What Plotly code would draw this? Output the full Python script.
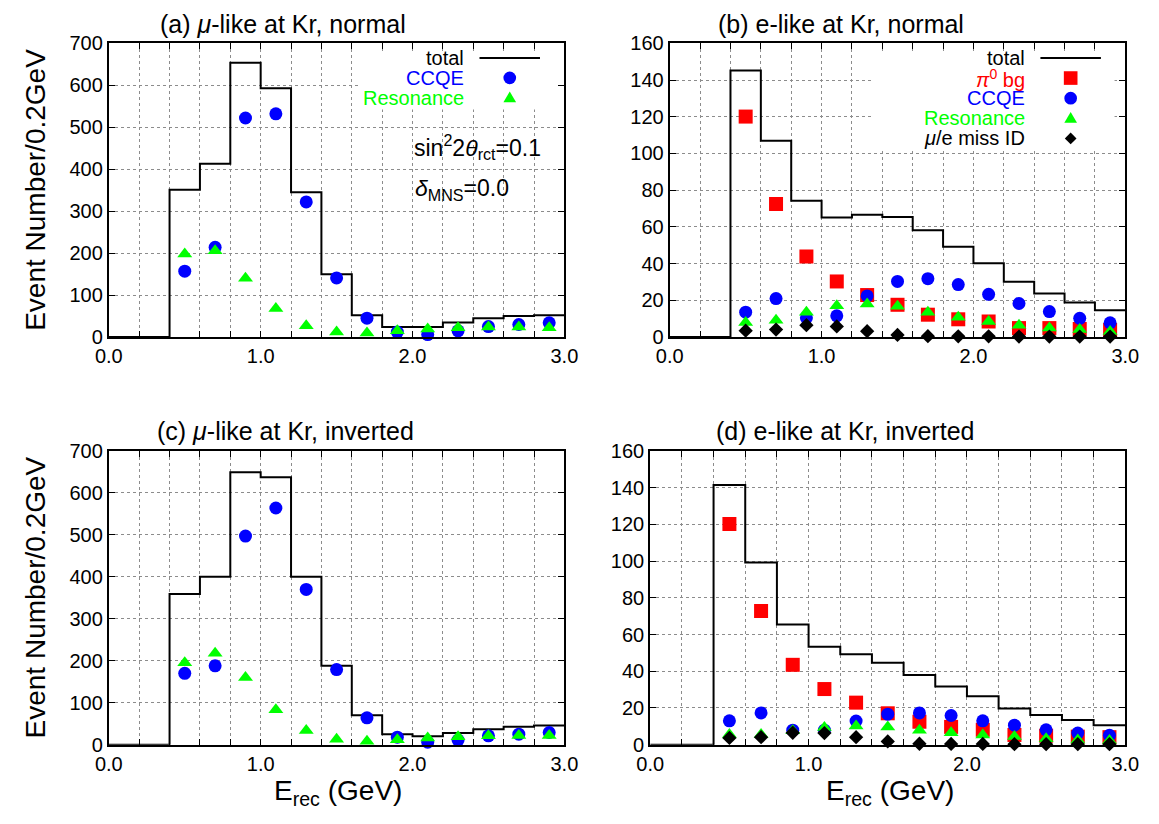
import plotly.graph_objects as go

# ---------------- data ----------------
bin_edges = [0.0, 0.2, 0.4, 0.6, 0.8, 1.0, 1.2, 1.4, 1.6, 1.8, 2.0, 2.2, 2.4, 2.6, 2.8, 3.0]
bin_centers = [0.5, 0.7, 0.9, 1.1, 1.3, 1.5, 1.7, 1.9, 2.1, 2.3, 2.5, 2.7, 2.9]

# (a) mu-like, normal
total_a = [0, 0, 351, 413, 654, 593, 345, 150, 52, 24, 24, 35, 45, 50, 52]
ccqe_a = [157, 214, 522, 532, 322, 141, 45, 12, 6, 15, 25, 30, 34]
res_a = [198, 206, 140, 68, 27, 12, 10, 15, 19, 22, 24, 24, 22]

# (b) e-like, normal
total_b = [0, 0, 145.2, 106.9, 74.3, 65.1, 66.7, 65.4, 58.2, 49.2, 40.2, 30.2, 23.8, 18.9, 14.6]
pi0_b = [120.1, 72.5, 43.9, 30.3, 22.9, 17.6, 12.2, 9.7, 8.5, 4.9, 4.9, 4.4, 3.9]
ccqe_b = [13.6, 21.0, 10.5, 11.6, 22.4, 30.3, 31.8, 28.6, 23.3, 18.3, 13.9, 10.2, 7.8]
res_b = [7.9, 9.2, 13.6, 17.1, 18.0, 16.8, 13.6, 10.8, 8.5, 6.4, 4.9, 4.2, 3.0]
misid_b = [3.5, 4.1, 6.5, 5.8, 3.2, 1.2, 0.5, 0.4, 0.4, 0.3, 0.3, 0.3, 0.3]

# (c) mu-like, inverted
total_c = [0, 0, 359, 400, 649, 637, 400, 188, 70, 25, 20, 28, 37, 43, 46]
ccqe_c = [170, 188, 497, 564, 370, 179, 64, 18, 6, 11, 21, 25, 29]
res_c = [195, 218, 160, 83, 34, 13, 8, 12, 16, 19, 21, 22, 22]

# (d) e-like, inverted
total_d = [0, 0, 141.5, 99.2, 65.4, 53.4, 49.2, 44.6, 37.9, 31.7, 26.4, 19.7, 16.2, 13.4, 10.6]
pi0_d = [120.2, 72.8, 43.5, 30.3, 22.9, 17.1, 12.5, 9.7, 8.1, 5.3, 4.9, 4.4, 4.1]
ccqe_d = [13.0, 17.3, 7.9, 7.9, 12.9, 16.6, 17.3, 15.9, 13.0, 10.6, 8.1, 6.3, 5.1]
res_d = [5.5, 5.5, 7.6, 9.3, 10.2, 9.7, 7.9, 6.5, 5.3, 4.4, 3.3, 2.6, 2.3]
misid_d = [3.7, 4.1, 6.5, 6.3, 4.1, 1.8, 0.5, 0.4, 0.4, 0.3, 0.3, 0.3, 0.3]

x_tick_vals = [0.0, 1.0, 2.0, 3.0]
x_tick_text = ["0.0", "1.0", "2.0", "3.0"]
y_ticks_mu = [0, 100, 200, 300, 400, 500, 600, 700]
y_ticks_e = [0, 20, 40, 60, 80, 100, 120, 140, 160]

titles = ["(a) <i>μ</i>-like at Kr, normal", "(b) e-like at Kr, normal",
          "(c) <i>μ</i>-like at Kr, inverted", "(d) e-like at Kr, inverted"]
y_title = "Event Number/0.2GeV"
x_title = "E<sub>rec</sub> (GeV)"
label_theta = "sin<sup>2</sup>2<i>θ</i><sub>rct</sub>=0.1"
label_delta = "<i>δ</i><sub>MNS</sub>=0.0"

# ---------------- style ----------------
# The page keeps the browser's default 8px body margin, so the figure is
# made 16px smaller than the window and window-pixel positions are shifted.
PAGE_MARGIN = 8
W, H = 1159 - 2 * PAGE_MARGIN, 824 - 2 * PAGE_MARGIN
FONT = "Liberation Sans, Arial, Helvetica, sans-serif"
RED, BLUE, GREEN, BLACK = "#ff0000", "#0000ff", "#00ff00", "#000000"
GRID = dict(showgrid=True, gridcolor="#8c8c8c", griddash="dot", gridwidth=1)


def px(x):
    return (x - PAGE_MARGIN) / W


def py(y):
    return 1 - (y - PAGE_MARGIN) / H


panels = {
    "a": dict(x=(97, 564), y=(33, 335)),
    "b": dict(x=(672, 1139), y=(33, 335)),
    "c": dict(x=(97, 564), y=(452, 754)),
    "d": dict(x=(652, 1139), y=(452, 754)),
}

fig = go.Figure()


def add_total(y, xa, ya):
    fig.add_trace(go.Scatter(x=bin_edges, y=y + [y[-1]], mode="lines", line_shape="hv",
                             line=dict(color=BLACK, width=2), xaxis=xa, yaxis=ya,
                             showlegend=False, hoverinfo="skip"))


def add_pts(y, xa, ya, color, symbol, size):
    fig.add_trace(go.Scatter(x=bin_centers, y=y, mode="markers", cliponaxis=False,
                             marker=dict(color=color, symbol=symbol, size=size, line=dict(width=0)),
                             xaxis=xa, yaxis=ya, showlegend=False))


# (a)
add_total(total_a, "x", "y")
add_pts(ccqe_a, "x", "y", BLUE, "circle", 13)
add_pts(res_a, "x", "y", GREEN, "triangle-up", 13)
# (b)
add_total(total_b, "x2", "y2")
add_pts(pi0_b, "x2", "y2", RED, "square", 14)
add_pts(ccqe_b, "x2", "y2", BLUE, "circle", 13)
add_pts(res_b, "x2", "y2", GREEN, "triangle-up", 13)
add_pts(misid_b, "x2", "y2", BLACK, "diamond", 11)
# (c)
add_total(total_c, "x3", "y3")
add_pts(ccqe_c, "x3", "y3", BLUE, "circle", 13)
add_pts(res_c, "x3", "y3", GREEN, "triangle-up", 13)
# (d)
add_total(total_d, "x4", "y4")
add_pts(pi0_d, "x4", "y4", RED, "square", 14)
add_pts(ccqe_d, "x4", "y4", BLUE, "circle", 13)
add_pts(res_d, "x4", "y4", GREEN, "triangle-up", 13)
add_pts(misid_d, "x4", "y4", BLACK, "diamond", 11)


def xcfg(key, anchor):
    p = panels[key]
    return dict(domain=[px(p["x"][0]), px(p["x"][1])], anchor=anchor, range=[0, 3],
                tickmode="array", tickvals=x_tick_vals, ticktext=x_tick_text,
                ticks="inside", ticklen=6, tickwidth=1, tickcolor=BLACK, mirror="allticks",
                showline=True, linecolor=BLACK, linewidth=2, zeroline=False,
                minor=dict(tick0=0, dtick=0.2, ticks="inside", ticklen=6, tickwidth=1,
                           tickcolor=BLACK, **GRID),
                tickfont=dict(family=FONT, size=20, color=BLACK), **GRID)


def ycfg(key, anchor, ticks, top):
    p = panels[key]
    return dict(domain=[py(p["y"][1]), py(p["y"][0])], anchor=anchor, range=[0, top],
                tickmode="array", tickvals=ticks,
                ticks="inside", ticklen=6, tickwidth=1, tickcolor=BLACK, mirror="allticks",
                showline=True, linecolor=BLACK, linewidth=2, zeroline=False,
                tickfont=dict(family=FONT, size=20, color=BLACK), **GRID)


annotations = []
shapes = []


def text(x, y, s, size, xanchor="center", yanchor="middle", color=BLACK, angle=0):
    annotations.append(dict(x=px(x), y=py(y), xref="paper", yref="paper", text=s,
                            showarrow=False, xanchor=xanchor, yanchor=yanchor,
                            textangle=angle, font=dict(family=FONT, size=size, color=color)))


# titles
text(276, 13, titles[0], 25)
text(848, 13, titles[1], 25)
text(278, 432, titles[2], 25)
text(852, 432, titles[3], 25)
# axis titles
text(22, 184, y_title, 28, angle=-90)
text(22, 603, y_title, 28, angle=-90)
text(332, 803, x_title, 28)
text(898, 803, x_title, 28)
# physics labels in (a)
text(408, 140, label_theta, 23, xanchor="left")
text(409, 183, label_delta, 23, xanchor="left")


def legend_box(x0, x1, y0, y1):
    shapes.append(dict(type="rect", xref="paper", yref="paper",
                       x0=px(x0), x1=px(x1), y0=py(y1), y1=py(y0),
                       fillcolor="white", line=dict(width=0), layer="above"))


def legend_sample(kind, cx, cy, color):
    if kind == "circle":
        r = 6.5
        shapes.append(dict(type="circle", xref="paper", yref="paper",
                           x0=px(cx - r), x1=px(cx + r), y0=py(cy + r), y1=py(cy - r),
                           fillcolor=color, line=dict(width=0), layer="above"))
    elif kind == "square":
        r = 7
        shapes.append(dict(type="rect", xref="paper", yref="paper",
                           x0=px(cx - r), x1=px(cx + r), y0=py(cy + r), y1=py(cy - r),
                           fillcolor=color, line=dict(width=0), layer="above"))
    elif kind == "triangle":
        pts = [(cx - 6.5, cy + 4.5), (cx + 6.5, cy + 4.5), (cx, cy - 6.5)]
        path = "M " + " L ".join(f"{px(a):.5f},{py(b):.5f}" for a, b in pts) + " Z"
        shapes.append(dict(type="path", xref="paper", yref="paper", path=path,
                           fillcolor=color, line=dict(width=0), layer="above"))
    elif kind == "diamond":
        pts = [(cx, cy - 6), (cx + 6, cy), (cx, cy + 6), (cx - 6, cy)]
        path = "M " + " L ".join(f"{px(a):.5f},{py(b):.5f}" for a, b in pts) + " Z"
        shapes.append(dict(type="path", xref="paper", yref="paper", path=path,
                           fillcolor=color, line=dict(width=0), layer="above"))


legend_a = [("total", BLACK, "line"), ("CCQE", BLUE, "circle"), ("Resonance", GREEN, "triangle")]
legend_b = [("total", BLACK, "line"), ("<i>π</i><sup>0</sup> bg", RED, "square"),
            ("CCQE", BLUE, "circle"), ("Resonance", GREEN, "triangle"),
            ("<i>μ</i>/e miss ID", BLACK, "diamond")]


def draw_legend(entries, text_right, mark_x, line_x0, line_x1, y_first, dy):
    for i, (label, color, kind) in enumerate(entries):
        yy = y_first + i * dy
        text(text_right, yy, label, 20, xanchor="right", color=color)
        if kind == "line":
            shapes.append(dict(type="line", xref="paper", yref="paper",
                               x0=px(line_x0), x1=px(line_x1), y0=py(yy), y1=py(yy),
                               line=dict(color=BLACK, width=2), layer="above"))
        else:
            legend_sample(kind, mark_x, yy, color)


# white key backgrounds (kept clear of the frame and its tick marks)
legend_box(353, 557, 41, 101)
legend_box(880, 1128, 41, 141)
draw_legend(legend_a, 463, 508, 477, 539, 48, 20.5)
draw_legend(legend_b, 1038, 1083, 1052, 1114, 48, 20.7)

fig.update_layout(
    width=W, height=H, margin=dict(l=0, r=0, t=0, b=0),
    paper_bgcolor="white", plot_bgcolor="white", showlegend=False,
    xaxis=xcfg("a", "y"), yaxis=ycfg("a", "x", y_ticks_mu, 700),
    xaxis2=xcfg("b", "y2"), yaxis2=ycfg("b", "x2", y_ticks_e, 160),
    xaxis3=xcfg("c", "y3"), yaxis3=ycfg("c", "x3", y_ticks_mu, 700),
    xaxis4=xcfg("d", "y4"), yaxis4=ycfg("d", "x4", y_ticks_e, 160),
    annotations=annotations, shapes=shapes,
)

fig.write_html("out.html", config={"displayModeBar": False, "responsive": False})
